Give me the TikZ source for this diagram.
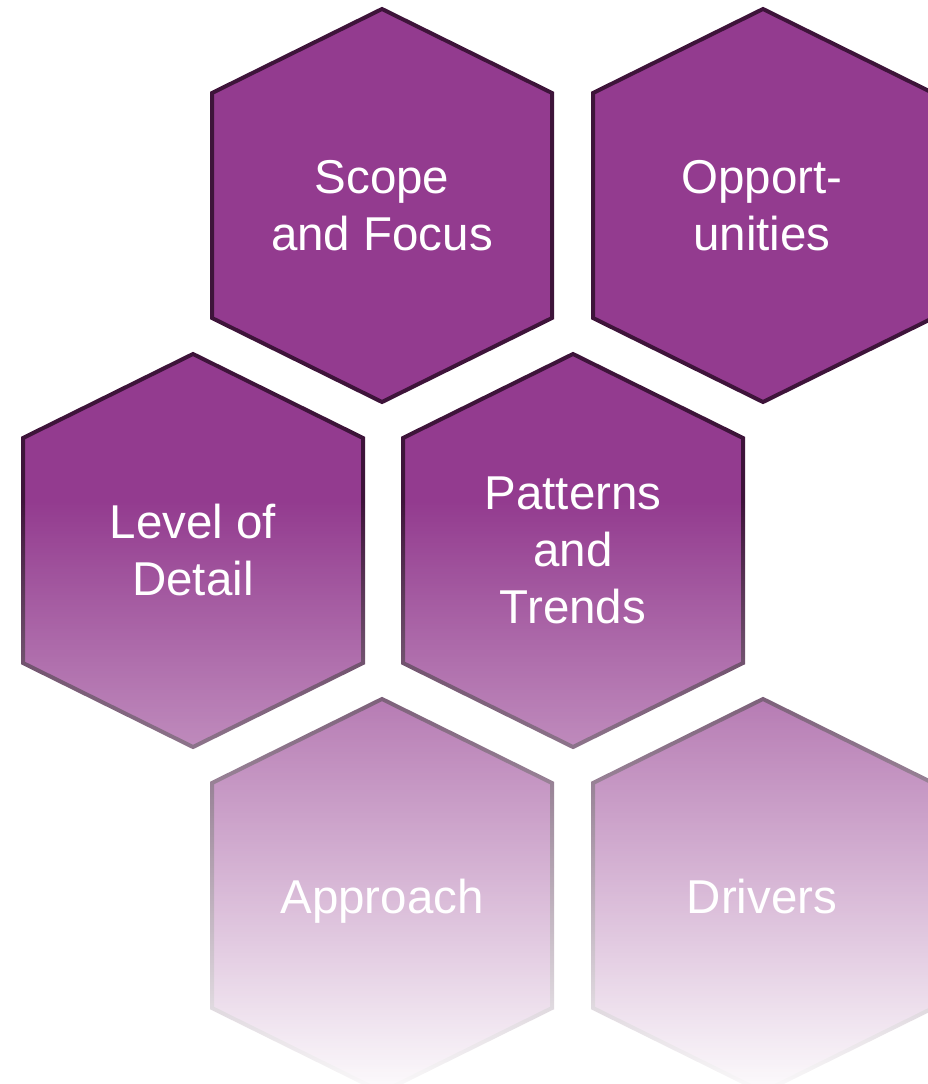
\documentclass[tikz,border=0pt]{standalone}
\usepackage{fontspec}
\setmainfont{Liberation Sans}
\usetikzlibrary{fadings}
\definecolor{hexfill}{RGB}{147,59,143}
\definecolor{hexline}{RGB}{62,20,58}
\tikzfading[name=fadedown, top color=transparent!100, bottom color=transparent!3]
\begin{document}
\begin{tikzpicture}[x=1pt,y=-1pt,
  hexbox/.style={fill=hexfill, draw=hexline, line width=4pt},
  hextext/.style={text=white, align=center, font=\fontsize{47.5}{57}\selectfont, inner sep=0pt}]
\useasboundingbox (0,0) rectangle (928,1084);
\foreach \cx/\cy in {382/205.5, 763/205.5, 193/550.5, 573/550.5, 382/895.5, 763/895.5}
  \draw[hexbox, shift={(\cx,\cy)}] (0,-196.5) -- (170,-112.5) -- (170,112.5) -- (0,196.5) -- (-170,112.5) -- (-170,-112.5) -- cycle;
\node[hextext] (scope) at (382,205.5) {Scope\\and Focus};
\node[hextext] (opp) at (762,205.5) {Opport-\\unities};
\node[hextext] (level) at (193,550.5) {Level of\\Detail};
\node[hextext] (patterns) at (573,550.5) {Patterns\\and\\Trends};
\node[hextext, anchor=base] (approach) at (382,913) {Approach};
\node[hextext, anchor=base] (drivers) at (762,913) {Drivers};
\fill[white, path fading=fadedown] (-20,500) rectangle (950,1084);
\end{tikzpicture}
\end{document}
